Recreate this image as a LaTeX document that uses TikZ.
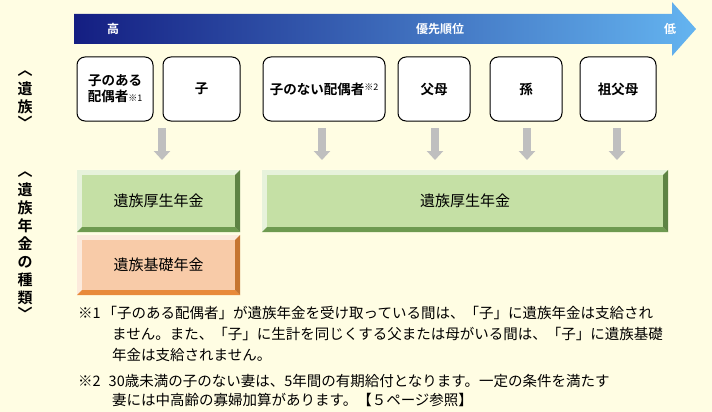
\documentclass[tikz,border=0pt]{standalone}
\usepackage{fontspec}
\setmainfont{Noto Sans CJK JP}[BoldFont={Noto Sans CJK JP Bold}]
\usetikzlibrary{arrows.meta}
\definecolor{bg}{HTML}{FFFDE3}
\definecolor{gr}{HTML}{C5E0A5}
\definecolor{grd}{HTML}{6E9A50}
\definecolor{og}{HTML}{F8CBA8}
\definecolor{ogd}{HTML}{E88A3A}
\definecolor{arr}{HTML}{BFBFBF}
\begin{document}
\begin{tikzpicture}[x=1pt,y=-1pt,
 per/.style={draw=black,line width=1pt,rounded corners=8pt,fill=white,font=\bfseries\fontsize{13.5}{16}\selectfont,align=center,inner sep=0pt},
 pen/.style={font=\fontsize{15}{17}\selectfont,inner sep=0pt},
 vt/.style={font=\bfseries\fontsize{15}{15}\selectfont,inner sep=0pt},
 dn/.style={-{Triangle[length=9pt,width=16pt]},line width=8pt,draw=arr},
 note/.style={font=\fontsize{14.5}{16}\selectfont,anchor=west,inner sep=0pt}]
\fill[bg] (0,0) rectangle (712,412);
\useasboundingbox (0,0) rectangle (712,412);
% priority arrow
\shade[left color={rgb,255:red,20;green,30;blue,130},right color={rgb,255:red,100;green,180;blue,240}]
 (74,14) -- (672,14) -- (672,2) -- (696,29) -- (672,56) -- (672,44) -- (74,44) -- cycle;
\node[text=white,font=\bfseries\fontsize{12}{13}\selectfont] (hi) at (113,29) {高};
\node[text=white,font=\bfseries\fontsize{12}{13}\selectfont] (mid) at (440,29) {優先順位};
\node[text=white,font=\bfseries\fontsize{12}{13}\selectfont] (lo) at (670,29) {低};
% left labels
\foreach \ch/\yy [count=\i] in {︿/74,遺/89,族/107,﹀/122}{\node[vt] (la\i) at (25,\yy) {\ch};}
\foreach \ch/\yy [count=\i] in {︿/175,遺/190,族/208,年/226,金/244,の/262,種/280,類/298,﹀/313}{\node[vt] (lb\i) at (25,\yy) {\ch};}
% persons
\node[per,minimum width=76pt,minimum height=64pt] (p1) at (115,89) {子のある\\配偶者{\fontsize{9}{9}\selectfont\mdseries ※1}};
\node[per,minimum width=77pt,minimum height=64pt] (p2) at (201.5,89) {子};
\node[per,minimum width=122pt,minimum height=64pt] (p3) at (324,89) {子のない配偶者\raisebox{4pt}{\fontsize{9}{9}\selectfont\mdseries ※2}};
\node[per,minimum width=72pt,minimum height=64pt] (p4) at (434,89) {父母};
\node[per,minimum width=72pt,minimum height=64pt] (p5) at (526,89) {孫};
\node[per,minimum width=76pt,minimum height=64pt] (p6) at (618,89) {祖父母};
% pensions
\node[pen,fill=gr,minimum width=163pt,minimum height=62pt] (k1) at (158.5,201) {遺族厚生年金};
\node[pen,fill=gr,minimum width=406pt,minimum height=62pt] (k2) at (465,201) {遺族厚生年金};
\node[pen,fill=og,minimum width=163pt,minimum height=60pt] (b1) at (158.5,265) {遺族基礎年金};
\foreach \n/\c/\d in {k1/gr/grd,k2/gr/grd,b1/og/ogd}{
 \fill[white,opacity=.6] (\n.north west) -- (\n.north east) -- ([shift={(-5,5)}]\n.north east) -- ([shift={(5,5)}]\n.north west) -- cycle;
 \fill[white,opacity=.6] (\n.north west) -- (\n.south west) -- ([shift={(5,-5)}]\n.south west) -- ([shift={(5,5)}]\n.north west) -- cycle;
 \fill[\d] (\n.south west) -- (\n.south east) -- ([shift={(-5,-5)}]\n.south east) -- ([shift={(5,-5)}]\n.south west) -- cycle;
 \fill[\d!85!black] (\n.north east) -- (\n.south east) -- ([shift={(-5,-5)}]\n.south east) -- ([shift={(-5,5)}]\n.north east) -- cycle;
}
% arrows
\draw[dn] (162,128) coordinate (a1) -- (162,160);
\draw[dn] (322,128) coordinate (a3) -- (322,160);
\draw[dn] (435,128) coordinate (a4) -- (435,160);
\draw[dn] (527,128) coordinate (a5) -- (527,160);
\draw[dn] (617,128) coordinate (a6) -- (617,160);
% notes
\node[note] (n1) at (78,313) {※1\hspace{2pt}「子のある配偶者」が遺族年金を受け取っている間は、「子」に遺族年金は支給され};
\node[note] (n1b) at (112,334) {ません。また、「子」に生計を同じくする父または母がいる間は、「子」に遺族基礎};
\node[note] (n1c) at (112,355) {年金は支給されません。};
\node[note] (n2) at (78,381) {※2\hspace{8pt}30歳未満の子のない妻は、5年間の有期給付となります。一定の条件を満たす};
\node[note] (n2b) at (112,400) {妻には中高齢の寡婦加算があります。【５ページ参照】};
\end{tikzpicture}
\end{document}
